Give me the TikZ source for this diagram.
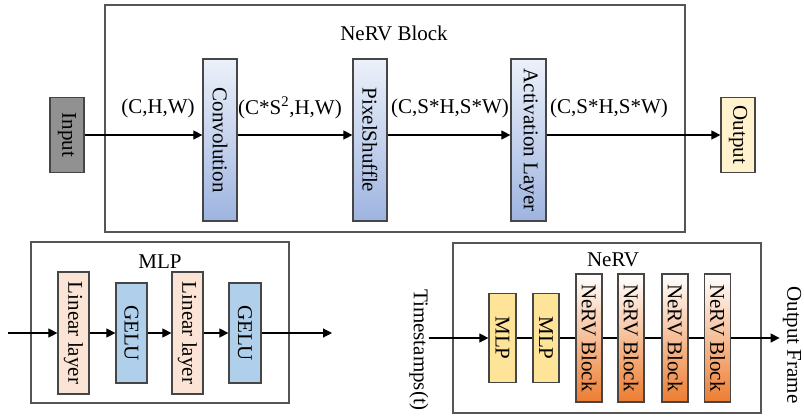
\documentclass[tikz,border=0pt]{standalone}
\usepackage{fontspec}
\setmainfont{Liberation Serif}
\usepackage{tikz}
\usetikzlibrary{arrows.meta}
\definecolor{FrameGray}{RGB}{85,85,85}
\definecolor{EdgeGray}{RGB}{70,70,70}
\definecolor{InputGray}{RGB}{145,145,145}
\definecolor{OutputYellow}{RGB}{255,242,204}
\definecolor{PaleBlue}{RGB}{236,241,250}
\definecolor{MidBlue}{RGB}{158,180,224}
\definecolor{LinearPeach}{RGB}{251,228,213}
\definecolor{GeluBlue}{RGB}{175,207,235}
\definecolor{MlpYellow}{RGB}{253,228,152}
\definecolor{BlockOrange}{RGB}{237,125,49}

\begin{document}
\begin{tikzpicture}[x=1pt, y=-1pt, font=\fontsize{21}{24}\selectfont,
    blk/.style={draw=EdgeGray, line width=1.2pt, inner sep=0pt},
    frame/.style={draw=FrameGray, line width=1.4pt, inner sep=0pt},
    arr/.style={-{Triangle[length=9pt,width=9pt]}, line width=1.1pt},
    link/.style={line width=1.1pt}]
    \useasboundingbox (0,0) rectangle (804,416);
    % NeRV Block
    \node[frame, minimum width=580, minimum height=227] (blockframe) at (395,118.5) {};
    \node (blocktitle) at (394,33) {NeRV Block};
    \node[blk, fill=InputGray, minimum width=34, minimum height=75] (in) at (67,135) {\rotatebox{-90}{Input}};
    \node[blk, top color=PaleBlue, bottom color=MidBlue, minimum width=34, minimum height=162] (conv) at (220,140) {\rotatebox{-90}{Convolution}};
    \node[blk, top color=PaleBlue, bottom color=MidBlue, minimum width=34, minimum height=162] (ps) at (370,140) {\rotatebox{-90}{PixelShuffle}};
    \node[blk, top color=PaleBlue, bottom color=MidBlue, minimum width=35, minimum height=162] (act) at (528.5,140) {\rotatebox{-90}{Activation Layer}};
    \node[blk, fill=OutputYellow, minimum width=34, minimum height=75] (out) at (738,135) {\rotatebox{-90}{Output}};
    \draw[arr] (in) -- (in -| conv.west);
    \draw[arr] (conv.east |- in) -- (ps.west |- in);
    \draw[arr] (ps.east |- in) -- (act.west |- in);
    \draw[arr] (act.east |- in) -- (out);
    \node (shape1) at (158,108) {(C,H,W)};
    \node (shape2) at (290,108) {(C*S\textsuperscript{2},H,W)};
    \node (shape3) at (450,108) {(C,S*H,S*W)};
    \node (shape4) at (609,108) {(C,S*H,S*W)};

    % MLP
    \node[frame, minimum width=258, minimum height=161] (mlpframe) at (160,322.5) {};
    \node (mlptitle) at (160,262) {MLP};
    \node[blk, fill=LinearPeach, minimum width=31, minimum height=122] (lin1) at (73.5,333) {\rotatebox{-90}{Linear layer}};
    \node[blk, fill=GeluBlue, minimum width=31, minimum height=100] (gelu1) at (131.5,333) {\rotatebox{-90}{GELU}};
    \node[blk, fill=LinearPeach, minimum width=31, minimum height=122] (lin2) at (187.5,333) {\rotatebox{-90}{Linear layer}};
    \node[blk, fill=GeluBlue, minimum width=32, minimum height=100] (gelu2) at (245,333) {\rotatebox{-90}{GELU}};
    \coordinate (mlpin) at (8,333);
    \coordinate (mlpout) at (332,333);
    \draw[arr] (mlpin) -- (lin1);
    \draw[arr] (lin1) -- (gelu1);
    \draw[arr] (gelu1) -- (lin2);
    \draw[arr] (lin2) -- (gelu2);
    \draw[arr] (gelu2) -- (mlpout);

    % NeRV
    \node[frame, minimum width=308, minimum height=170] (nervframe) at (607,328) {};
    \node (nervtitle) at (613,260) {NeRV};
    \node[inner sep=0pt] (ts) at (419,350) {\rotatebox{-90}{Timestamps(t)}};
    \node[inner sep=3pt] (frameout) at (792,345) {\rotatebox{-90}{Output Frame}};
    \node[blk, fill=MlpYellow, minimum width=27, minimum height=89] (m1) at (502.5,338) {\rotatebox{-90}{MLP}};
    \node[blk, fill=MlpYellow, minimum width=26, minimum height=89] (m2) at (546,338) {\rotatebox{-90}{MLP}};
    \foreach \i/\x in {1/589, 2/631, 3/675, 4/717.5} {
        \node[blk, top color=white, middle color=BlockOrange!35, bottom color=BlockOrange,
              minimum width=26, minimum height=128] (b\i) at (\x,338) {\rotatebox{-90}{NeRV Block}};
    }
    \draw[arr] (ts.east |- m1) -- (m1);
    \draw[link] (m1) -- (m2);
    \draw[link] (m2) -- (b1);
    \draw[link] (b1) -- (b2);
    \draw[link] (b2) -- (b3);
    \draw[link] (b3) -- (b4);
    \draw[arr] (b4) -- (b4 -| frameout.west);
\end{tikzpicture}
\end{document}
